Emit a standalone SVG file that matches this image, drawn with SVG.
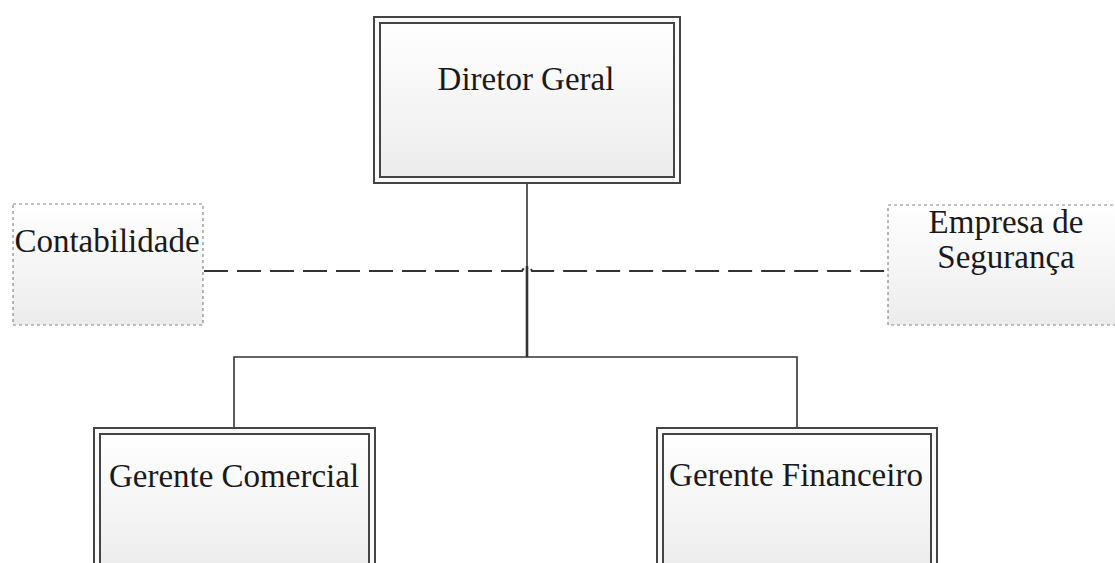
<svg xmlns="http://www.w3.org/2000/svg" width="1115" height="563" viewBox="0 0 1115 563">
<style>
.lbl{font-family:"Liberation Serif","Times New Roman",serif;font-size:33px;fill:#1a1a1a;text-anchor:middle}
.outer{fill:#fafafa;stroke:#444;stroke-width:2}
.inner{fill:url(#g);stroke:#444;stroke-width:2}
.dot{fill:url(#g);stroke:#888;stroke-width:1.2;stroke-dasharray:3 3}
.ln{fill:none;stroke:#333;stroke-width:1.6}
.dash{fill:none;stroke:#333;stroke-width:2.2;stroke-dasharray:24 9}
</style>
<defs>
<linearGradient id="g" x1="0" y1="0" x2="0" y2="1">
<stop offset="0" stop-color="#ffffff"/>
<stop offset="1" stop-color="#ececec"/>
</linearGradient>
</defs>
<rect width="1115" height="563" fill="#ffffff"/>
<g id="connectors">
<path class="dash" d="M204,271 H522 Q527,262 532,271 H888"/>
<path class="ln" d="M527,183 V357"/>
<path class="ln" d="M527,266 V357" style="stroke-width:2.6"/>
<path class="ln" d="M234,428 V357 H797 V428"/>
</g>
<g id="diretor">
<rect class="outer" x="374" y="17" width="306" height="166"/>
<rect class="inner" x="380" y="23" width="294" height="154"/>
<text class="lbl" x="526" y="90">Diretor Geral</text>
</g>
<g id="contabilidade">
<rect class="dot" x="13" y="204" width="190" height="121"/>
<text class="lbl" x="107" y="252">Contabilidade</text>
</g>
<g id="seguranca">
<rect class="dot" x="888" y="205" width="240" height="120"/>
<text class="lbl" x="1006" y="233">Empresa de</text>
<text class="lbl" x="1006" y="268">Segurança</text>
</g>
<g id="comercial">
<rect class="outer" x="94" y="428" width="281" height="150"/>
<rect class="inner" x="100" y="434" width="269" height="140"/>
<text class="lbl" x="234" y="487">Gerente Comercial</text>
</g>
<g id="financeiro">
<rect class="outer" x="657" y="428" width="280" height="150"/>
<rect class="inner" x="663" y="434" width="268" height="140"/>
<text class="lbl" x="796" y="486">Gerente Financeiro</text>
</g>
</svg>
